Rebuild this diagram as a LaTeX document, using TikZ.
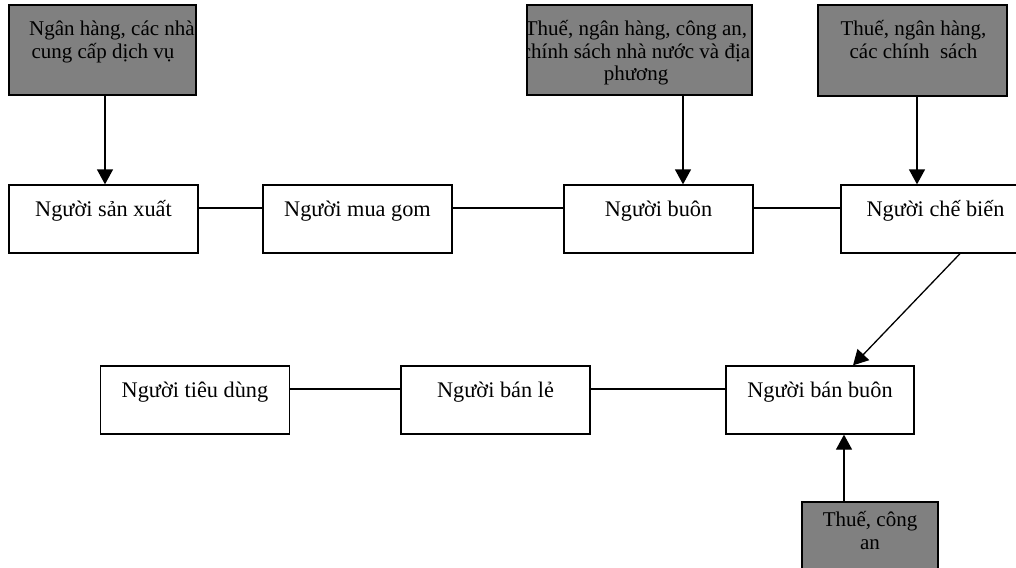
\documentclass[tikz,border=0pt]{standalone}
\usepackage{fontspec}
\setmainfont{Liberation Serif}
\usetikzlibrary{arrows.meta}
\definecolor{gfill}{HTML}{808080}
\begin{document}
\begin{tikzpicture}[x=1pt,y=-1pt,
  wbox/.style={draw, line width=1.3pt, fill=white, inner sep=0pt,
    minimum width=189pt, minimum height=68pt,
    text height=31pt, text depth=37pt, font=\fontsize{22.3}{24}\selectfont},
  gbox/.style={draw, line width=1.3pt, fill=gfill, inner sep=0pt},
  gtext/.style={inner sep=0pt, align=center, anchor=base,
    font=\fontsize{21}{22.5}\selectfont},
  link/.style={line width=1.3pt},
  arr/.style={line width=1.3pt, -{Triangle[length=15pt,width=16pt]}}]
\clip (0,0) rectangle (1016,567);
\fill[white] (0,0) rectangle (1016,567);

% gray boxes
\node[gbox, minimum width=187pt, minimum height=90pt] (g1) at (102.5,50) {};
\node[gbox, minimum width=225pt, minimum height=90pt] (g2) at (639.5,50) {};
\node[gbox, minimum width=189pt, minimum height=91pt] (g3) at (912.5,50.5) {};
\node[gbox, minimum width=136pt, minimum height=90pt] (g4) at (870,547) {};

\begin{scope}
\clip ([xshift=2pt,yshift=2pt]g1.south west) rectangle ([xshift=-2pt,yshift=-2pt]g1.north east);
\node[gtext] (g1t) at (103,58.5) {\hspace*{18pt}Ngân hàng, các nhà\\cung cấp dịch vụ};
\end{scope}
\begin{scope}
\clip ([xshift=2pt,yshift=2pt]g2.south west) rectangle ([xshift=-2pt,yshift=-2pt]g2.north east);
\node[gtext] (g2t) at (636,81) {Thuế, ngân hàng, công an,\\chính sách nhà nước và địa\\phương};
\end{scope}
\begin{scope}
\clip ([xshift=2pt,yshift=2pt]g3.south west) rectangle ([xshift=-2pt,yshift=-2pt]g3.north east);
\node[gtext] (g3t) at (913.5,58.5) {Thuế, ngân hàng,\\các chính\ \ sách};
\end{scope}
\begin{scope}
\clip ([xshift=2pt,yshift=2pt]g4.south west) rectangle ([xshift=-2pt,yshift=-2pt]g4.north east);
\node[gtext] (g4t) at (870,549) {Thuế, công\\an};
\end{scope}

% white boxes
\node[wbox] (sx) at (103.5,219) {Người sản xuất};
\node[wbox] (mg) at (357.5,219) {Người mua gom};
\node[wbox] (buon) at (658.5,219) {Người buôn};
\node[wbox] (cb) at (935.5,219) {Người chế biến};
\node[wbox, minimum width=188pt] (bb) at (820,400) {Người bán buôn};
\node[wbox] (bl) at (495.5,400) {Người bán lẻ};
\node[wbox] (td) at (195,400) {Người tiêu dùng};

% links
\draw[link] ([yshift=11pt]sx.east) -- ([yshift=11pt]mg.west);
\draw[link] ([yshift=11pt]mg.east) -- ([yshift=11pt]buon.west);
\draw[link] ([yshift=11pt]buon.east) -- ([yshift=11pt]cb.west);
\draw[link] ([yshift=11pt]td.east) -- ([yshift=11pt]bl.west);
\draw[link] ([yshift=11pt]bl.east) -- ([yshift=11pt]bb.west);

% arrows
\draw[arr] ([xshift=2.5pt]g1.south) -- ([xshift=1.5pt]sx.north);
\draw[arr] ([xshift=43.5pt]g2.south) -- ([xshift=24.5pt]buon.north);
\draw[arr] ([xshift=4.5pt]g3.south) -- ([xshift=-18.5pt]cb.north);
\draw[arr] ([xshift=24.5pt]cb.south) -- ([xshift=33pt]bb.north);
\draw[arr] ([xshift=-26pt]g4.north) -- ([xshift=24pt]bb.south);
\end{tikzpicture}
\end{document}
